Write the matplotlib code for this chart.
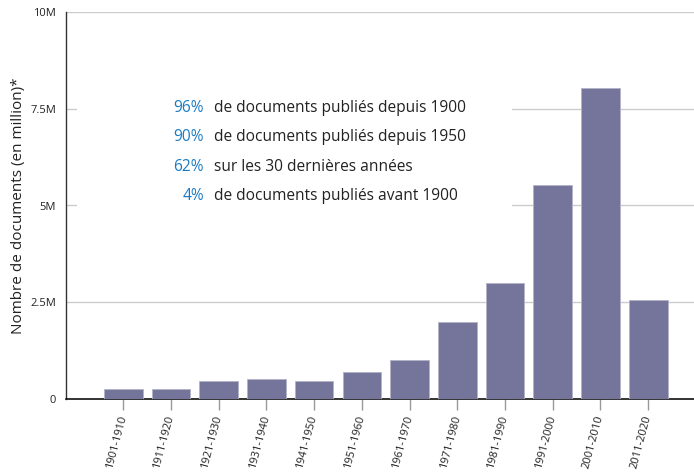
import numpy as np
from matplotlib import pyplot as plt
from matplotlib.patches import Rectangle

# Data (millions of documents per decade)
decades = ['1901-1910', '1911-1920', '1921-1930', '1931-1940', '1941-1950', '1951-1960',
           '1961-1970', '1971-1980', '1981-1990', '1991-2000', '2001-2010', '2011-2020']
documents = [0.26, 0.26, 0.46, 0.51, 0.46, 0.70, 1.0, 2.0, 3.0, 5.53, 8.04, 2.56]
documents = [v * 1e6 for v in documents]

y_ticks = [0, 2.5e6, 5e6, 7.5e6, 10e6]
y_tick_labels = ['0', '2.5M', '5M', '7.5M', '10M']

share_values = ['96%', '90%', '62%', '4%']
share_texts = ['de documents publiés depuis 1900',
               'de documents publiés depuis 1950',
               'sur les 30 dernières années',
               'de documents publiés avant 1900']

plt.rcParams['font.family'] = ['Open Sans', 'DejaVu Sans']

fig = plt.figure(figsize=(6.94, 4.72), dpi=100)
ax = fig.add_axes([66 / 694, 73 / 472, 628 / 694, 387 / 472])

x = np.arange(len(decades))
ax.bar(x, documents, width=0.81, color='#75749b', edgecolor='#b3b2c8', linewidth=0.6, zorder=3)

ax.set_xlim(-1.20, 11.96)
ax.set_ylim(0, 10e6)

# grid lines
for yt in y_ticks[1:]:
    ax.axhline(yt, color='#cccccc', linewidth=1, zorder=1)

# white box behind the annotation text hides the grid
ax.add_patch(Rectangle(((77 - 66) / 628, (399 - 216) / 387), (512 - 77) / 628, 122 / 387,
                       transform=ax.transAxes, facecolor='white', edgecolor='none', zorder=2))

for side in ['top', 'right']:
    ax.spines[side].set_visible(False)
ax.spines['left'].set_color('#333333')
ax.spines['bottom'].set_color('#111111')
ax.spines['left'].set_linewidth(1)
ax.spines['bottom'].set_linewidth(1.2)

ax.set_yticks(y_ticks)
ax.set_yticklabels(y_tick_labels)
ax.tick_params(axis='y', length=0, pad=7, labelsize=8, labelcolor='#222222')
ax.set_xticks(x)
ax.set_xticklabels(decades, rotation=75, ha='right', va='center', rotation_mode='anchor')
ax.tick_params(axis='x', length=8, color='#999999', width=1, pad=4, labelsize=8, labelcolor='#222222')

ax.set_ylabel('Nombre de documents (en million)*', fontsize=11, color='#222222')
ax.yaxis.set_label_coords(-0.063, 0.5)

# annotation lines
rows_y = [108, 137, 167, 196]
for val, txt, py in zip(share_values, share_texts, rows_y):
    fy = 1 - py / 472
    fig.text(204 / 694, fy, val, color='#1a7bc4', fontsize=11.2, ha='right', va='center')
    fig.text(214 / 694, fy, txt, color='#222222', fontsize=11.2, ha='left', va='center')

fig.savefig('out.png', dpi=100)
